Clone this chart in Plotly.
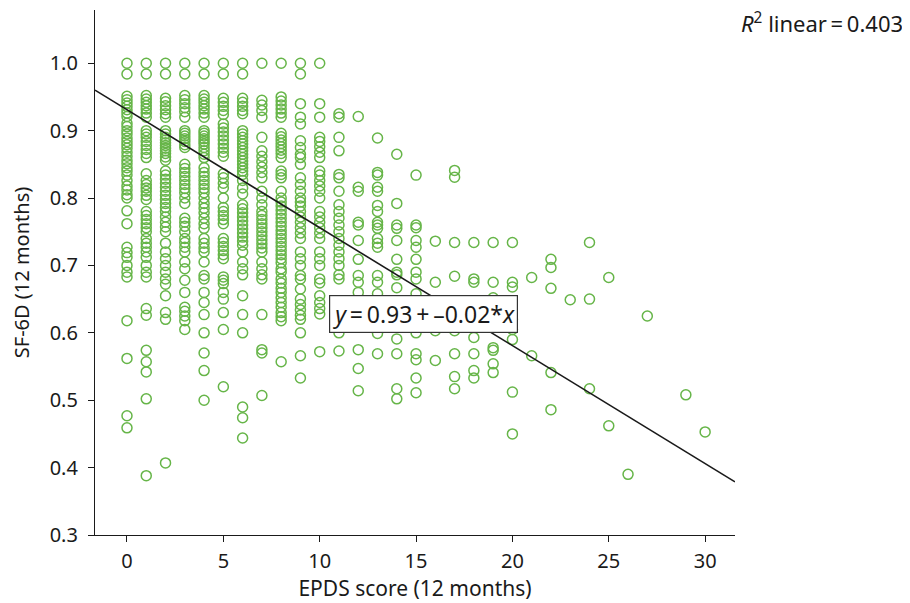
import plotly.graph_objects as go
import numpy as np

# EPDS score (x) -> SF-6D values (y)
sf6d_0 = [1.0, 0.984, 0.951, 0.946, 0.941, 0.936, 0.931, 0.926, 0.921, 0.911, 0.906, 0.9, 0.895, 0.889, 0.884, 0.879, 0.874, 0.868, 0.862, 0.856, 0.851, 0.845, 0.84, 0.834, 0.826, 0.818, 0.812, 0.805, 0.8, 0.781, 0.762, 0.727, 0.719, 0.712, 0.7, 0.69, 0.683, 0.618, 0.562, 0.477, 0.459]
sf6d_1 = [1.0, 0.984, 0.952, 0.947, 0.942, 0.937, 0.932, 0.926, 0.92, 0.9, 0.895, 0.89, 0.884, 0.878, 0.872, 0.866, 0.86, 0.836, 0.826, 0.82, 0.815, 0.81, 0.804, 0.798, 0.78, 0.774, 0.768, 0.762, 0.756, 0.75, 0.74, 0.733, 0.727, 0.72, 0.712, 0.7, 0.69, 0.683, 0.636, 0.626, 0.574, 0.557, 0.542, 0.502, 0.388]
sf6d_2 = [1.0, 0.984, 0.948, 0.943, 0.937, 0.931, 0.925, 0.92, 0.9, 0.895, 0.89, 0.886, 0.882, 0.878, 0.874, 0.87, 0.866, 0.861, 0.856, 0.84, 0.834, 0.828, 0.822, 0.816, 0.81, 0.804, 0.798, 0.792, 0.786, 0.78, 0.772, 0.764, 0.757, 0.75, 0.733, 0.72, 0.71, 0.7, 0.69, 0.68, 0.672, 0.655, 0.63, 0.62, 0.407]
sf6d_3 = [1.0, 0.984, 0.952, 0.946, 0.94, 0.934, 0.928, 0.92, 0.9, 0.896, 0.892, 0.888, 0.884, 0.879, 0.875, 0.85, 0.844, 0.838, 0.832, 0.826, 0.82, 0.814, 0.808, 0.8, 0.792, 0.77, 0.764, 0.758, 0.75, 0.74, 0.734, 0.727, 0.72, 0.705, 0.695, 0.678, 0.66, 0.638, 0.632, 0.625, 0.618, 0.605]
sf6d_4 = [1.0, 0.984, 0.952, 0.947, 0.942, 0.937, 0.932, 0.926, 0.92, 0.9, 0.896, 0.892, 0.888, 0.884, 0.88, 0.875, 0.87, 0.865, 0.86, 0.845, 0.838, 0.832, 0.826, 0.82, 0.814, 0.808, 0.8, 0.792, 0.785, 0.778, 0.77, 0.762, 0.755, 0.74, 0.733, 0.726, 0.72, 0.705, 0.685, 0.68, 0.66, 0.645, 0.627, 0.6, 0.57, 0.544, 0.5]
sf6d_5 = [1.0, 0.984, 0.948, 0.942, 0.936, 0.93, 0.924, 0.91, 0.904, 0.898, 0.892, 0.886, 0.88, 0.874, 0.868, 0.862, 0.836, 0.83, 0.822, 0.815, 0.8, 0.786, 0.78, 0.774, 0.768, 0.762, 0.74, 0.734, 0.728, 0.722, 0.716, 0.71, 0.683, 0.678, 0.673, 0.66, 0.65, 0.63, 0.605, 0.52]
sf6d_6 = [1.0, 0.984, 0.948, 0.942, 0.936, 0.93, 0.925, 0.9, 0.895, 0.89, 0.885, 0.88, 0.875, 0.87, 0.865, 0.86, 0.855, 0.85, 0.845, 0.84, 0.835, 0.826, 0.815, 0.806, 0.79, 0.784, 0.778, 0.772, 0.766, 0.76, 0.754, 0.748, 0.742, 0.736, 0.73, 0.72, 0.705, 0.695, 0.686, 0.655, 0.627, 0.6, 0.49, 0.474, 0.444]
sf6d_7 = [1.0, 0.945, 0.938, 0.93, 0.92, 0.89, 0.87, 0.862, 0.854, 0.846, 0.838, 0.83, 0.81, 0.8, 0.79, 0.78, 0.774, 0.768, 0.762, 0.756, 0.75, 0.744, 0.738, 0.732, 0.726, 0.72, 0.705, 0.695, 0.686, 0.68, 0.627, 0.575, 0.57, 0.507]
sf6d_8 = [1.0, 0.95, 0.944, 0.938, 0.932, 0.926, 0.92, 0.896, 0.891, 0.886, 0.881, 0.876, 0.871, 0.866, 0.86, 0.84, 0.835, 0.83, 0.81, 0.8, 0.794, 0.788, 0.782, 0.776, 0.77, 0.764, 0.758, 0.752, 0.746, 0.74, 0.734, 0.728, 0.722, 0.716, 0.71, 0.704, 0.695, 0.69, 0.68, 0.674, 0.666, 0.66, 0.652, 0.645, 0.638, 0.63, 0.624, 0.618, 0.557]
sf6d_9 = [1.0, 0.984, 0.94, 0.92, 0.91, 0.885, 0.875, 0.865, 0.86, 0.85, 0.83, 0.82, 0.81, 0.8, 0.794, 0.788, 0.78, 0.772, 0.764, 0.756, 0.748, 0.74, 0.72, 0.71, 0.7, 0.685, 0.68, 0.665, 0.65, 0.642, 0.634, 0.626, 0.62, 0.6, 0.566, 0.533]
sf6d_10 = [1.0, 0.94, 0.92, 0.89, 0.884, 0.876, 0.868, 0.86, 0.84, 0.834, 0.826, 0.818, 0.81, 0.8, 0.78, 0.772, 0.764, 0.756, 0.748, 0.74, 0.72, 0.71, 0.7, 0.68, 0.674, 0.655, 0.645, 0.636, 0.628, 0.572]
sf6d_11 = [0.925, 0.92, 0.89, 0.87, 0.835, 0.83, 0.81, 0.79, 0.78, 0.77, 0.76, 0.75, 0.74, 0.73, 0.72, 0.71, 0.7, 0.686, 0.68, 0.6, 0.573]
sf6d_12 = [0.921, 0.816, 0.81, 0.764, 0.76, 0.737, 0.709, 0.685, 0.675, 0.66, 0.575, 0.547, 0.514]
sf6d_13 = [0.889, 0.838, 0.834, 0.816, 0.81, 0.789, 0.78, 0.764, 0.76, 0.755, 0.74, 0.733, 0.727, 0.685, 0.675, 0.658, 0.599, 0.569]
sf6d_14 = [0.865, 0.792, 0.76, 0.755, 0.737, 0.709, 0.69, 0.686, 0.667, 0.591, 0.569, 0.517, 0.502]
sf6d_15 = [0.834, 0.76, 0.756, 0.737, 0.727, 0.709, 0.69, 0.68, 0.658, 0.6, 0.569, 0.56, 0.533, 0.511]
sf6d_16 = [0.736, 0.675, 0.603, 0.559]
sf6d_17 = [0.841, 0.831, 0.734, 0.684, 0.603, 0.569, 0.535, 0.517]
sf6d_18 = [0.734, 0.68, 0.675, 0.614, 0.593, 0.569, 0.544, 0.533]
sf6d_19 = [0.734, 0.675, 0.652, 0.578, 0.574, 0.554, 0.541]
sf6d_20 = [0.734, 0.675, 0.668, 0.62, 0.605, 0.59, 0.512, 0.45]
sf6d_21 = [0.682, 0.566]
sf6d_22 = [0.709, 0.697, 0.666, 0.541, 0.486]
sf6d_23 = [0.649]
sf6d_24 = [0.734, 0.65, 0.517]
sf6d_25 = [0.682, 0.462]
sf6d_26 = [0.39]
sf6d_27 = [0.625]
sf6d_29 = [0.508]
sf6d_30 = [0.453]

epds_scores = [0, 1, 2, 3, 4, 5, 6, 7, 8, 9, 10, 11, 12, 13, 14, 15, 16, 17, 18, 19, 20, 21, 22, 23, 24, 25, 26, 27, 29, 30]
sf6d_columns = [sf6d_0, sf6d_1, sf6d_2, sf6d_3, sf6d_4, sf6d_5, sf6d_6, sf6d_7, sf6d_8, sf6d_9,
                sf6d_10, sf6d_11, sf6d_12, sf6d_13, sf6d_14, sf6d_15, sf6d_16, sf6d_17, sf6d_18, sf6d_19,
                sf6d_20, sf6d_21, sf6d_22, sf6d_23, sf6d_24, sf6d_25, sf6d_26, sf6d_27, sf6d_29, sf6d_30]

# Fit line as drawn in the picture
fit_intercept = 0.931
fit_slope = -0.0175
x_range = [-1.66, 31.55]
y_range = [0.3, 1.079]
x_ticks = [0, 5, 10, 15, 20, 25, 30]
y_ticks = [0.3, 0.4, 0.5, 0.6, 0.7, 0.8, 0.9, 1.0]

xs, ys = [], []
for s, col in zip(epds_scores, sf6d_columns):
    xs.extend([s] * len(col))
    ys.extend(col)

FONT = "Noto Sans"
GREEN = "#66b548"

fig = go.Figure()
fig.add_trace(go.Scatter(
    x=xs, y=ys, mode="markers",
    marker=dict(symbol="circle-open", size=10, color=GREEN, line=dict(width=1.5, color=GREEN)),
    showlegend=False, cliponaxis=False,
))
lx = np.array(x_range)
fig.add_trace(go.Scatter(
    x=lx, y=fit_intercept + fit_slope * lx, mode="lines",
    line=dict(color="#1a1a1a", width=1.6), showlegend=False,
))

fig.update_layout(
    width=910, height=603,
    margin=dict(l=87, r=183, t=2, b=76),
    paper_bgcolor="white", plot_bgcolor="white",
    font=dict(family=FONT, size=20, color="#1a1a1a"),
    xaxis=dict(range=x_range, tickvals=x_ticks, showgrid=False, zeroline=False, automargin=False,
               showline=True, linecolor="#1a1a1a", linewidth=1.2,
               ticks="outside", ticklen=6, tickcolor="#1a1a1a", ticklabelstandoff=2,
               title=dict(text="EPDS score (12 months)", font=dict(size=21), standoff=5)),
    yaxis=dict(range=y_range, tickvals=y_ticks, tickformat=".1f", showgrid=False, zeroline=False,
               automargin=False,
               showline=True, linecolor="#1a1a1a", linewidth=1.2,
               ticks="outside", ticklen=6, tickcolor="#1a1a1a", ticklabelstandoff=6,
               title=dict(text="SF-6D (12 months)", font=dict(size=20), standoff=22)),
    annotations=[
        dict(text="<i>R</i><sup>2</sup> linear\u2009=\u20090.403", xref="paper", yref="paper",
             x=1.2656, y=0.977, xanchor="right", yanchor="middle", showarrow=False,
             font=dict(size=22)),
        dict(text="<i>y</i>\u2009=\u20090.93\u2009+\u2009\u20130.02*<i>x</i>", x=15.36, y=0.628,
             xref="x", yref="y", showarrow=False, bgcolor="white",
             bordercolor="#333333", borderwidth=1.2, borderpad=2, font=dict(size=23)),
    ],
)

fig.write_html("out.html")
